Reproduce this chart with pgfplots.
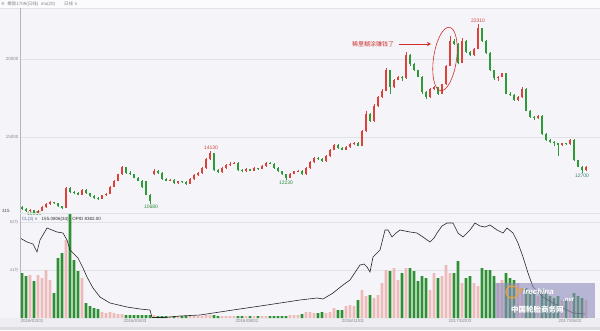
\documentclass[border=0pt]{standalone}
\usepackage{pgfplots}
\pgfplotsset{compat=1.18}
\usepackage{pgfplotstable}
\usepackage{fontspec}
\setmainfont{Liberation Sans}
\newfontfamily\cjk{Noto Sans CJK SC}
\newfontfamily\dv{DejaVu Sans}
\usetikzlibrary{arrows.meta}

\definecolor{bg}{HTML}{F5F5F9}
\definecolor{strip}{HTML}{EEEEF2}
\definecolor{stripdark}{HTML}{DCDCE1}
\definecolor{upc}{HTML}{DB423B}
\definecolor{dnc}{HTML}{2E9A3A}
\definecolor{volup}{HTML}{EDB9B9}
\definecolor{voldn}{HTML}{2F8F33}
\definecolor{gridc}{HTML}{E1E1E8}
\definecolor{axc}{HTML}{B5B5BE}
\definecolor{lbl}{HTML}{85858E}
\definecolor{anno}{HTML}{D0302C}
\definecolor{lowc}{HTML}{2E8B3A}
\definecolor{lastc}{HTML}{3C7A6E}
\definecolor{clc}{HTML}{5A6E9E}
\definecolor{wm}{HTML}{8C8CBC}
\definecolor{wmo}{HTML}{F0A030}

% daily bars: x position, open, high, low, close, volume (panel units)
\pgfplotstableread{
x o h l c v
22 10500 10560 10320 10400 45
26 10400 10450 10200 10250 42
30 10250 10380 10180 10300 43
34 10300 10330 10055 10100 37
38 10100 10290 10080 10250 43
42 10250 10560 10220 10500 40
46 10500 10760 10460 10700 48
50 10700 10880 10650 10800 38
54 10800 10850 10700 10750 25
58 10750 10780 10500 10550 60
62 10550 10600 10380 10450 65
66 10450 11800 10420 11700 78
70 11700 11760 11380 11450 105
74 11450 11520 11330 11400 58
78 11400 11450 11250 11300 47
82 11300 11660 11260 11600 40
86 11600 11640 11350 11400 15
90 11400 11430 11150 11200 12
94 11200 11250 11050 11100 10
98 11100 11150 10980 11050 9
102 11050 11300 11020 11250 6
106 11250 11400 11200 11350 5
110 11350 11850 11320 11800 6
114 11800 12250 11760 12200 5
118 12200 12650 12150 12600 4
122 12600 13150 12550 13050 4
126 13050 13100 12650 12700 3
130 12700 12800 12550 12600 3
134 12600 12650 12350 12400 3
138 12400 12450 12150 12200 3
142 12200 12250 11750 11800 3
146 12150 12200 11250 11300 3
150 11300 11350 10680 10900 3
154 12600 12950 12550 12850 3
158 12850 12900 12650 12700 2
162 12700 12750 12250 12300 2
166 12300 12350 12150 12200 2
170 12200 12300 12150 12250 2
174 12250 12300 12000 12050 2
178 12050 12200 12000 12150 2
182 12150 12200 12050 12100 2
186 12100 12150 11950 12000 2
190 12000 12350 11980 12300 2
194 12300 12600 12250 12550 2
198 12550 12750 12500 12700 2
202 12700 13050 12650 13000 2
206 13000 13650 12950 13600 3
210 13600 14130 13550 13950 3
214 13950 14000 12850 12900 3
218 12900 12950 12700 12750 2
222 12750 13050 12700 13000 2
226 13000 13250 12950 13200 2
230 13200 13400 13150 13300 2
234 13300 13400 13250 13350 2
238 13350 13380 12850 12900 2
242 12900 12950 12750 12800 2
246 12800 13000 12780 12950 2
250 12950 12980 12800 12850 2
254 12850 13050 12820 13000 2
258 13000 13030 12900 12950 2
262 12950 13200 12920 13150 2
266 13150 13400 13100 13350 2
270 13350 13380 13250 13300 2
274 13300 13320 12950 13000 2
278 13000 13050 12750 12800 2
282 12800 12850 12550 12600 2
286 12600 12650 12230 12400 2
290 12400 12700 12380 12650 3
294 12650 12850 12600 12800 3
298 12800 12900 12750 12850 3
302 12850 12880 12550 12600 4
306 12600 13050 12580 13000 6
310 13000 13450 12950 13400 6
314 13400 13700 13350 13650 5
318 13650 13700 13550 13600 5
322 13600 13650 13400 13450 6
326 13450 13850 13420 13800 5
330 13800 14250 13750 14200 6
334 14200 14550 14150 14500 10
338 14500 14550 14250 14300 8
342 14300 14350 14150 14200 8
346 14200 14400 14150 14350 12
350 14350 14600 14300 14550 13
354 14550 14700 14500 14650 12
358 14650 14700 14400 14450 18
362 14450 15450 14400 15400 28
366 15400 16650 15350 16500 22
370 16500 16550 15950 16050 23
374 16050 17100 16000 17000 20
378 17000 17650 16950 17600 23
382 17600 18100 17550 18000 35
386 18000 19480 17950 19300 48
390 19300 19350 17750 18200 47
394 18200 18750 18150 18700 50
398 18700 18950 18650 18900 38
402 18900 18950 18600 18800 45
406 18800 20450 18750 20300 50
410 20300 20350 19600 19700 50
414 19700 19750 19250 19300 47
418 19300 19350 18850 18900 37
422 18900 18950 17800 17900 42
426 17900 18000 17430 17600 40
430 17600 18150 17550 18100 28
434 18100 18300 18050 18200 45
438 18200 18250 17700 17800 40
442 17800 18450 17750 18400 42
446 18400 19650 18350 19600 53
450 19600 21480 19550 21200 45
454 21200 21300 20900 21000 45
458 21000 21050 19680 19800 57
462 19800 21400 19750 21200 35
466 21200 21250 20400 20500 40
470 20500 20550 20200 20300 42
474 20300 20750 20250 20700 35
478 20700 22310 20650 22000 32
482 22000 22050 21150 21200 50
486 21200 21250 20350 20400 48
490 20400 20450 19250 19300 48
494 19300 19350 18700 18800 42
498 18800 18950 18600 18900 35
502 18900 19150 18850 19100 38
506 19100 19150 17750 17800 45
510 17800 17900 17650 17700 40
514 17700 17750 17350 17400 38
518 17400 17650 17350 17600 35
522 17600 18200 17550 18100 30
526 18100 18150 16650 16700 30
530 16700 16750 16250 16300 28
534 16300 16350 16100 16200 25
538 16200 16450 16150 16350 22
542 16350 16400 15150 15200 28
546 15200 15250 14750 14800 25
550 14800 14850 14600 14700 22
554 14700 14750 14400 14600 20
558 14600 14650 13800 14500 22
562 14500 14650 14450 14600 18
566 14600 14650 14500 14550 18
570 14550 14900 14500 14800 20
574 14800 14850 13450 13500 25
578 13500 13550 13050 13100 22
582 13100 13150 12700 12900 20
586 12900 13150 12850 13100 18
}\kline

% open interest (panel units)
\pgfplotstableread{
x oi
20 80
27 76
33 74
37 66
40 78
47 90
52 88
57 86
63 85
67 78
70 68
74 64
78 60
83 50
87 41
93 30
100 21
110 15
127 11
140 9
150 8
152 0.5
165 0.5
180 2
200 3
233 8
267 13
300 18
317 20
323 19
333 25
343 33
350 38
356 47
360 53
364 54
367 51
370 46
373 61
380 68
385 88
388 88
392 81
396 85
400 88
405 87
410 86
417 85
423 81
430 76
434 80
437 85
442 92
447 95
453 95
458 85
463 81
467 85
470 88
475 95
480 92
485 91
490 93
497 88
503 85
507 90
513 85
518 75
523 61
528 45
533 31
543 21
553 15
563 10
573 5
585 4
}\oiline

\pgfplotsset{
  upbar/.style={restrict expr to domain={\thisrow{c}-\thisrow{o}}{0:100000}},
  dnbar/.style={restrict expr to domain={\thisrow{c}-\thisrow{o}}{-100000:-1}},
}

\begin{document}
\begin{tikzpicture}[x=1pt,y=1pt]
\fill[bg] (0,0) rectangle (600,-330);
\useasboundingbox (0,0) rectangle (600,-330);
% title strip and bottom strip
\fill[white!60!bg] (0,0) rectangle (600,-8);
\draw[gridc, line width=0.5pt] (0,-8) -- (600,-8);
\fill[strip] (0,-318) rectangle (600,-330);
\fill[stripdark] (0,-327) rectangle (600,-330);
\node[anchor=west, inner sep=0pt, text=lbl, font=\fontsize{4.5}{5}\selectfont] at (1,-4)
  {{\dv ≡}\ \ {\cjk 橡胶}1709({\cjk 日线})\ \ ma(20)\qquad {\cjk 日线} {\dv ∨}};

% ---------------- price panel ----------------
\begin{axis}[
  at={(20,-8)}, anchor=north west, scale only axis,
  width=580pt, height=204pt,
  xmin=20, xmax=600, ymin=9897, ymax=23024,
  enlargelimits=false,
  axis line style={draw=none}, tick style={draw=none},
  xtick=\empty, ytick={15000,20000}, scaled y ticks=false,
  ymajorgrids, grid style={gridc, line width=0.5pt},
  yticklabel style={font=\fontsize{4.5}{5}\selectfont, text=lbl, inner sep=1.5pt},
  /pgf/number format/assume math mode=true,
  /pgf/number format/1000 sep={},
  clip=false,
]
% wicks: from low to high
\addplot[upbar, quiver={u value=0, v=\thisrow{h}-\thisrow{l}}, mark=none, draw=upc, line width=0.5pt, forget plot]
  table[x=x, y=l] {\kline};
\addplot[dnbar, quiver={u value=0, v=\thisrow{h}-\thisrow{l}}, mark=none, draw=dnc, line width=0.5pt, forget plot]
  table[x=x, y=l] {\kline};
% bodies: from open to close
\addplot[upbar, quiver={u value=0, v=\thisrow{c}-\thisrow{o}}, mark=none, draw=upc, line width=2.3pt, forget plot]
  table[x=x, y=o] {\kline};
\addplot[dnbar, quiver={u value=0, v=\thisrow{c}-\thisrow{o}}, mark=none, draw=dnc, line width=2.3pt, forget plot]
  table[x=x, y=o] {\kline};
% extreme-value labels
\begin{scope}[every node/.style={font=\fontsize{5}{6}\selectfont, inner sep=1pt}]
\node[anchor=south, text=upc] at (axis cs:211,14130) {14130};
\node[anchor=south, text=upc] at (axis cs:478,22310) {22310};
\node[anchor=north, text=lowc] at (axis cs:151,10680) {10680};
\node[anchor=north, text=lowc] at (axis cs:286,12230) {12230};
\node[anchor=north, text=lastc] at (axis cs:582,12700) {12700};
\node[anchor=base west, text=lowc, inner sep=0pt] at (axis cs:27,9930) {10055};
\end{scope}
\end{axis}

% ---------------- volume / open interest panel ----------------
\begin{axis}[
  at={(20,-318)}, anchor=south west, scale only axis,
  width=580pt, height=105pt,
  xmin=20, xmax=600, ymin=0, ymax=105,
  enlargelimits=false,
  axis line style={draw=none}, tick style={draw=none},
  ytick={48,96}, yticklabels={{41{\cjk 万}},{82{\cjk 万}}},
  ymajorgrids, grid style={gridc, line width=0.5pt},
  yticklabel style={font=\fontsize{4}{5}\selectfont, text=lbl, inner sep=1.5pt},
  xtick={32,135,247,353,460,570},
  xticklabels={2016/02/01,2016/05/03,2016/08/01,2016/11/01,2017/02/03,2017/05/02},
  xticklabel style={font=\fontsize{4.5}{5}\selectfont, text=lbl, inner sep=1.5pt},
  clip=false,
]
\addplot[upbar, ybar, bar width=2.6pt, bar shift=0pt, fill=volup, draw=none, forget plot]
  table[x=x, y=v] {\kline};
\addplot[dnbar, ybar, bar width=2.6pt, bar shift=0pt, fill=voldn, draw=none, forget plot]
  table[x=x, y=v] {\kline};
\addplot[black!85, line width=0.6pt, mark=none] table[x=x, y=oi] {\oiline};
\end{axis}

% panel frame lines
\draw[axc, line width=0.5pt] (20,-8) -- (20,-318);
\draw[gridc, line width=0.6pt] (20,-213) -- (600,-213);

% small captions
\node[anchor=base west, inner sep=0pt, text=black!70, font=\fontsize{4.5}{5}\selectfont] at (2,-212) {315};
\node[anchor=west, inner sep=0pt, font=\fontsize{4.5}{5}\selectfont] at (22,-219)
  {\textcolor{clc}{CL(3) {\dv ∨}}\ \ \ \textcolor{black!80}{155.0806(34)}\ \ \ \textcolor{black!80}{OPID 8382.00}};

% annotation
\node[anchor=west, inner sep=0pt, text=anno, font=\cjk\fontsize{6}{7}\selectfont] at (352,-44) {稀里糊涂赚钱了};
\draw[anno, line width=0.9pt, -{Stealth[length=4pt,width=4pt]}] (399,-44) -- (431,-44);
\draw[anno, line width=0.6pt, rotate around={-8:(445,-59)}] (445,-59) ellipse [x radius=11.5, y radius=32];

% watermark
\fill[wm, opacity=0.6] (495,-283) rectangle (595,-318);
\draw[wmo, line width=1.2pt] (512,-292) circle (6);
\node[anchor=west, inner sep=0pt, text=white, font=\bfseries\itshape\fontsize{8}{9}\selectfont] at (518,-292) {{\color{wmo}T}irechina};
\node[anchor=west, inner sep=0pt, text=white, font=\bfseries\itshape\fontsize{6}{7}\selectfont] at (563,-300) {.net};
\node[anchor=west, inner sep=0pt, text=white, font=\cjk\bfseries\fontsize{7.5}{8}\selectfont] at (511,-310) {中国轮胎商务网};
\end{tikzpicture}
\end{document}
